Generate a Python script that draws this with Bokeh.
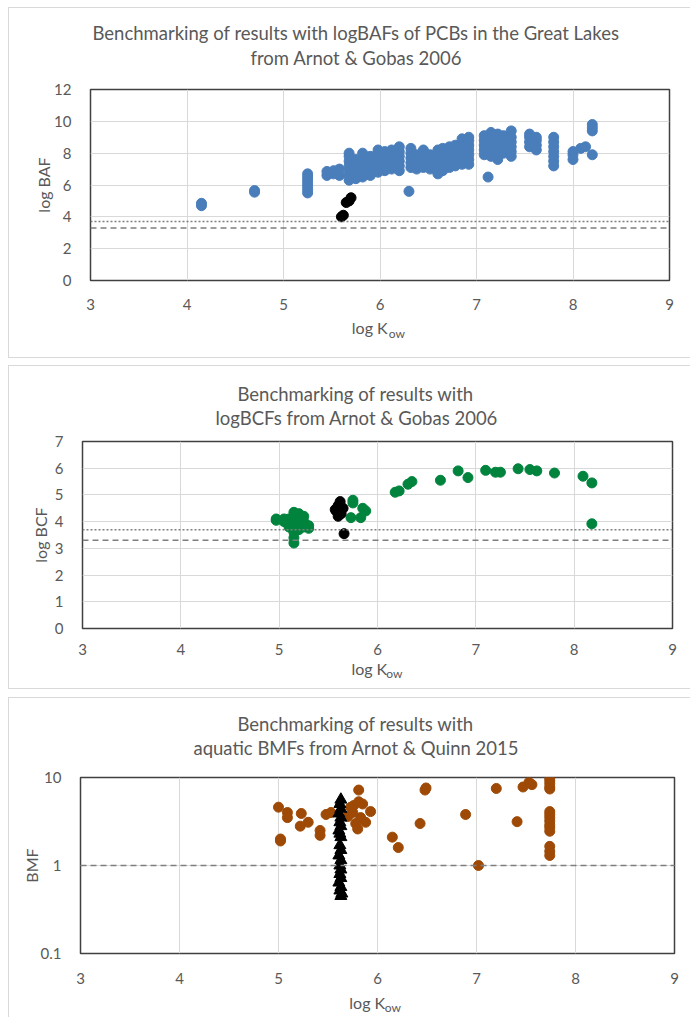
from bokeh.plotting import figure
from bokeh.layouts import column
from bokeh.models import (Title, Span, FixedTicker, NumeralTickFormatter, Range1d, LinearAxis)
from bokeh.embed import file_html
from bokeh.resources import INLINE

# ---------------- data ----------------
baf_kow = [4.15, 4.15,
           4.70, 4.70,
           5.25, 5.25, 5.25, 5.25, 5.25, 5.25, 5.25,
           5.45, 5.45, 5.52, 5.52, 5.58, 5.58,
           5.68, 5.68, 5.68, 5.68, 5.68, 5.68, 5.68,
           5.75, 5.75, 5.75, 5.75, 5.75,
           5.82, 5.82, 5.82, 5.82, 5.82, 5.82,
           5.90, 5.90, 5.90, 5.90, 5.90,
           5.98, 5.98, 5.98, 5.98, 5.98, 5.98,
           6.05, 6.05, 6.05, 6.05, 6.05,
           6.12, 6.12, 6.12, 6.12, 6.12,
           6.20, 6.20, 6.20, 6.20, 6.20, 6.20,
           6.30,
           6.32, 6.32, 6.32, 6.32, 6.32,
           6.38, 6.38, 6.38, 6.38,
           6.45, 6.45, 6.45, 6.45, 6.45,
           6.52, 6.52, 6.52, 6.52,
           6.60, 6.60, 6.60, 6.60, 6.60, 6.60,
           6.65, 6.65, 6.65, 6.65, 6.65,
           6.72, 6.72, 6.72, 6.72, 6.72,
           6.78, 6.78, 6.78, 6.78, 6.78,
           6.85, 6.85, 6.85, 6.85, 6.85, 6.85,
           6.92, 6.92, 6.92, 6.92, 6.92, 6.92, 6.92,
           7.08, 7.08, 7.08, 7.08, 7.08,
           7.12,
           7.15, 7.15, 7.15, 7.15, 7.15, 7.15,
           7.22, 7.22, 7.22, 7.22, 7.22, 7.22,
           7.28, 7.28, 7.28, 7.28,
           7.36, 7.36, 7.36, 7.36, 7.36, 7.36,
           7.55, 7.55, 7.55, 7.55,
           7.62, 7.62, 7.62, 7.62,
           7.80, 7.80, 7.80, 7.80, 7.80, 7.80, 7.80,
           8.00, 8.00, 8.00,
           8.08, 8.13,
           8.20, 8.20, 8.20, 8.20]
baf_log = [4.70, 4.85,
           5.55, 5.65,
           5.50, 5.70, 5.90, 6.10, 6.30, 6.50, 6.70,
           6.60, 6.85, 6.70, 6.90, 6.60, 7.00,
           6.30, 6.60, 6.90, 7.20, 7.50, 7.80, 8.00,
           6.40, 6.70, 7.00, 7.30, 7.60,
           6.50, 6.80, 7.10, 7.40, 7.70, 8.00,
           6.60, 6.90, 7.20, 7.50, 7.80,
           6.80, 7.10, 7.40, 7.70, 8.00, 8.20,
           6.90, 7.20, 7.50, 7.80, 8.10,
           7.00, 7.30, 7.60, 7.90, 8.20,
           6.90, 7.20, 7.50, 7.80, 8.10, 8.40,
           5.60,
           7.10, 7.40, 7.70, 8.00, 8.30,
           7.00, 7.30, 7.60, 7.90,
           7.10, 7.40, 7.70, 8.00, 8.20,
           7.00, 7.30, 7.60, 7.90,
           6.70, 7.00, 7.30, 7.60, 7.90, 8.20,
           6.90, 7.20, 7.50, 7.80, 8.30,
           7.10, 7.40, 7.70, 8.00, 8.40,
           7.20, 7.50, 7.80, 8.10, 8.50,
           7.30, 7.60, 7.90, 8.20, 8.60, 8.90,
           7.30, 7.60, 7.90, 8.20, 8.50, 8.80, 9.00,
           7.90, 8.20, 8.50, 8.80, 9.10,
           6.50,
           7.80, 8.10, 8.40, 8.70, 9.00, 9.30,
           7.60, 7.90, 8.20, 8.50, 8.80, 9.20,
           8.00, 8.40, 8.80, 9.10,
           7.80, 8.10, 8.40, 8.70, 9.00, 9.40,
           8.40, 8.70, 9.00, 9.20,
           8.20, 8.50, 8.80, 9.00,
           7.20, 7.50, 7.80, 8.10, 8.40, 8.70, 9.00,
           7.60, 7.90, 8.10,
           8.30, 8.40,
           7.90, 9.40, 9.60, 9.80]
baf_model_kow = [5.60, 5.62, 5.65, 5.68, 5.70]
baf_model_log = [4.00, 4.10, 4.90, 5.00, 5.20]

bcf_kow = [4.97, 4.97, 5.05, 5.05, 5.10, 5.10, 5.10,
           5.15, 5.15, 5.15, 5.15, 5.15, 5.15, 5.15,
           5.20, 5.20, 5.20, 5.20, 5.20,
           5.25, 5.25, 5.25, 5.30, 5.30,
           5.73, 5.75, 5.75, 5.83, 5.85, 5.88,
           6.18, 6.22, 6.31, 6.35,
           6.64, 6.82, 6.92,
           7.10, 7.20, 7.25,
           7.43, 7.55, 7.62, 7.80,
           8.09, 8.18, 8.18]
bcf_log = [4.10, 4.05, 4.00, 4.10, 3.80, 3.90, 4.10,
           3.20, 3.40, 3.60, 3.80, 4.00, 4.20, 4.35,
           3.70, 3.90, 4.10, 4.30, 4.25,
           3.80, 4.00, 4.20, 3.75, 3.85,
           4.15, 4.80, 4.70, 4.15, 4.50, 4.40,
           5.10, 5.15, 5.40, 5.50,
           5.55, 5.90, 5.65,
           5.92, 5.85, 5.85,
           5.98, 5.95, 5.90, 5.82,
           5.70, 5.45, 3.92]
bcf_model_kow = [5.57, 5.58, 5.60, 5.62, 5.63, 5.65, 5.60, 5.66]
bcf_model_log = [4.45, 4.40, 4.60, 4.75, 4.30, 4.50, 4.20, 3.55]

bmf_kow = [5.00, 5.02, 5.02, 5.09, 5.09, 5.23, 5.22, 5.30, 5.42, 5.42,
           5.48, 5.53, 5.70, 5.73, 5.75, 5.76, 5.78, 5.80, 5.81, 5.81,
           5.83, 5.85, 5.88, 5.93, 6.15, 6.21, 6.43, 6.48, 6.49, 6.89,
           7.02, 7.20, 7.41, 7.47, 7.53, 7.56,
           7.74, 7.74, 7.74, 7.74, 7.74, 7.74, 7.74, 7.74, 7.74, 7.74,
           7.74, 7.74, 7.74, 7.74, 7.74]
bmf_val = [4.6, 1.9, 2.0, 4.0, 3.5, 3.9, 2.8, 3.1, 2.5, 2.2,
           3.8, 4.0, 3.6, 4.6, 4.0, 4.8, 3.0, 2.6, 7.2, 5.3,
           3.5, 5.0, 3.1, 4.1, 2.1, 1.6, 3.0, 7.2, 7.6, 3.8,
           1.0, 7.5, 3.15, 7.8, 8.8, 8.3,
           9.8, 9.2, 8.5, 7.8, 7.4, 4.1, 3.8, 3.5, 3.2, 2.9,
           2.7, 2.45, 1.65, 1.45, 1.3]
bmf_model_kow = [5.63, 5.62, 5.63, 5.61, 5.63, 5.62, 5.63, 5.61, 5.62, 5.63,
                 5.62, 5.63, 5.61, 5.63, 5.62, 5.63, 5.62, 5.63, 5.61, 5.63,
                 5.62, 5.64, 5.63]
bmf_model_val = [5.6, 5.0, 4.4, 3.9, 3.5, 3.1, 2.8, 2.5, 2.3, 2.1,
                 1.7, 1.5, 1.3, 1.15, 1.0, 0.9, 0.8, 0.72, 0.64, 0.57,
                 0.52, 0.48, 0.45]

x_ticks = [3, 4, 5, 6, 7, 8, 9]
baf_ticks = [0, 2, 4, 6, 8, 10, 12]
bcf_ticks = [0, 1, 2, 3, 4, 5, 6, 7]
bmf_ticks = [0.1, 1, 10]
threshold_5000 = 3.7
threshold_2000 = 3.3
bmf_threshold = 1.0

titles = [["Benchmarking of results with logBAFs of PCBs in the Great Lakes",
           "from Arnot & Gobas 2006"],
          ["Benchmarking of results with",
           "logBCFs from Arnot & Gobas 2006"],
          ["Benchmarking of results with",
           "aquatic BMFs from Arnot & Quinn 2015"]]

FONT = "Lato"
TXT = "#595959"
GRID = "#d9d9d9"
NB = "\u00a0"


def make_panel(width, height, margin, ml, mr, mt, mb, yr, yticks, ylab, ylab_standoff,
               tick_standoff, xlab_standoff, sub_standoff, sub_pad, main_pad, ylog=False):
    p = figure(width=width, height=height, output_backend="svg", toolbar_location=None,
               x_range=Range1d(3, 9), y_range=Range1d(*yr),
               y_axis_type="log" if ylog else "linear",
               min_border_left=ml, min_border_right=mr, min_border_top=mt, min_border_bottom=mb,
               background_fill_color="white", border_fill_color="white",
               margin=margin, frame_align=False,
               styles={"box-shadow": "0 0 0 1px #d9d9d9"})
    p.outline_line_color = "#404040"
    p.outline_line_width = 1.5
    p.xaxis.ticker = FixedTicker(ticks=x_ticks)
    p.yaxis.ticker = FixedTicker(ticks=yticks)
    for ax in [p.xaxis[0], p.yaxis[0]]:
        ax.axis_line_color = None
        ax.major_tick_line_color = None
        ax.minor_tick_line_color = None
        ax.major_label_text_font = FONT
        ax.major_label_text_font_size = "15px"
        ax.major_label_text_color = TXT
        ax.axis_label_text_font = FONT
        ax.axis_label_text_font_size = "16px"
        ax.axis_label_text_font_style = "normal"
        ax.axis_label_text_color = TXT
    p.xaxis.major_label_standoff = tick_standoff
    p.yaxis.major_label_standoff = 13
    p.yaxis.axis_label = ylab
    p.yaxis.axis_label_standoff = ylab_standoff
    p.xaxis.axis_label = "log K" + NB * main_pad
    p.xaxis.axis_label_standoff = xlab_standoff
    sub = LinearAxis(ticker=FixedTicker(ticks=[]), axis_line_color=None,
                     major_tick_line_color=None, minor_tick_line_color=None,
                     major_label_text_font_size="0px", major_label_standoff=0,
                     axis_label=NB * sub_pad + "ow", axis_label_standoff=sub_standoff,
                     axis_label_text_font=FONT, axis_label_text_font_size="12px",
                     axis_label_text_font_style="normal", axis_label_text_color=TXT)
    p.add_layout(sub, "below")
    p.xgrid.grid_line_color = GRID
    p.ygrid.grid_line_color = GRID
    p.ygrid.minor_grid_line_color = None
    return p


def add_titles(p, lines, offsets, spacer, line_standoff):
    p.add_layout(Title(text=NB, text_font_size="1px", standoff=spacer), "above")
    for text, off in zip(lines[::-1], offsets[::-1]):
        p.add_layout(Title(text=text, align="left", offset=off, vertical_align="middle",
                           text_font=FONT, text_font_size="18.5px", text_font_style="normal",
                           text_color=TXT, standoff=line_standoff), "above")


def thresholds(p, levels, dashes):
    for lev, dash in zip(levels, dashes):
        p.add_layout(Span(location=lev, dimension="width", line_color="#7f7f7f",
                          line_dash=dash, line_width=1.5))


# ---------------- panel 1 ----------------
p1 = make_panel(681, 349, (8, 0, 0, 9), 81, 21, 81, 77, (0, 12), baf_ticks, "log BAF", -2,
                12, 5, -14, 11, 5)
add_titles(p1, titles[0], [2, 160], 16, 1)
thresholds(p1, [threshold_5000, threshold_2000], ["2 2", "6 4"])
p1.scatter(baf_kow, baf_log, size=10, color="#4a7ebb")
p1.scatter(baf_model_kow, baf_model_log, size=10, color="black")

# ---------------- panel 2 ----------------
p2 = make_panel(681, 322, (9, 0, 0, 9), 73, 18, 75, 60, (0, 7), bcf_ticks, "log BCF", 2,
                9, 1, -15, 11, 4)
add_titles(p2, titles[1], [155, 133], 9, 0)
thresholds(p2, [threshold_5000, threshold_2000], ["2 2", "6 4"])
p2.scatter(bcf_kow, bcf_log, size=10, color="#00843d")
p2.scatter(bcf_model_kow, bcf_model_log, size=10, color="black")

# ---------------- panel 3 ----------------
p3 = make_panel(681, 319, (10, 0, 0, 9), 71, 16, 79, 60, (0.1, 10), bmf_ticks, "BMF", -3,
                13, 6, -15, 10, 5, ylog=True)
p3.yaxis.formatter = NumeralTickFormatter(format="0.[0]")
add_titles(p3, titles[2], [157, 113], 15, 0)
thresholds(p3, [bmf_threshold], ["6 4"])
p3.scatter(bmf_kow, bmf_val, size=10, color="#9e4a06")
p3.scatter(bmf_model_kow, bmf_model_val, size=12, marker="triangle", color="black")

layout = column(p1, p2, p3, spacing=0)
open("out.html", "w").write(file_html(layout, INLINE))
